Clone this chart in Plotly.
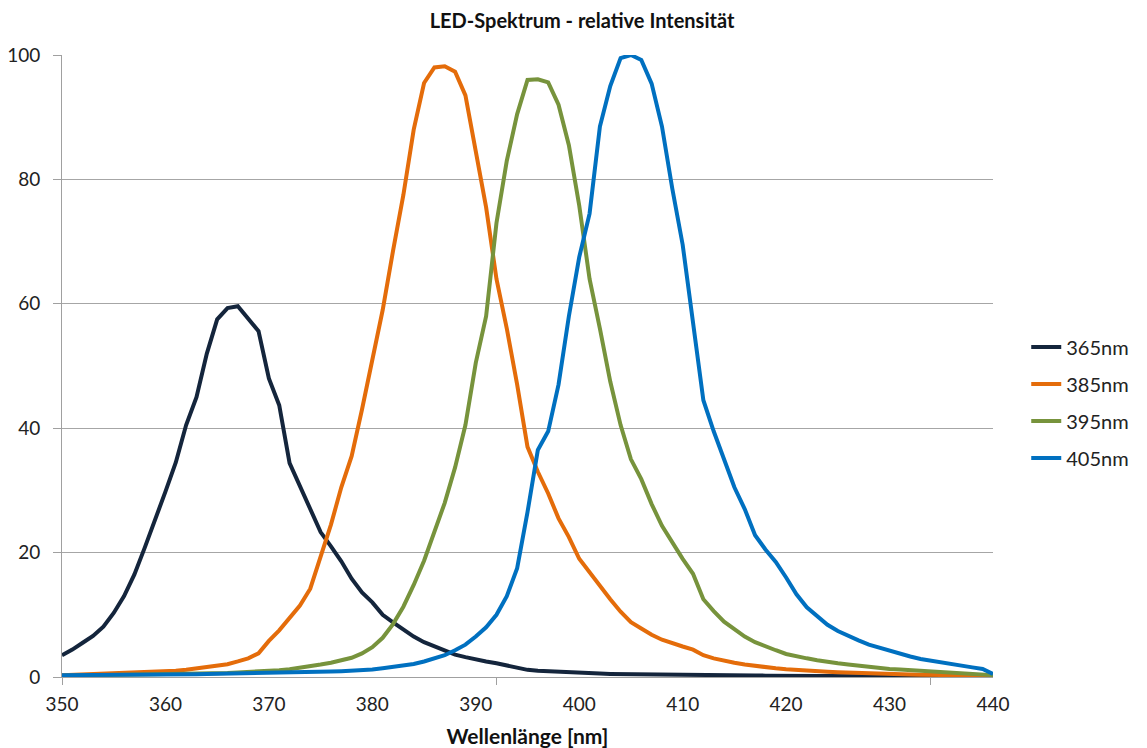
import plotly.graph_objects as go

wavelength = list(range(350, 441))

led_365 = [3.5, 4.4, 5.5, 6.6, 8.1, 10.3, 13.0, 16.5, 20.8, 25.2,
           29.8, 34.5, 40.5, 45.0, 52.0, 57.5, 59.3, 59.6, 57.6, 55.6,
           48.0, 43.7, 34.4, 30.6, 27.0, 23.3, 21.0, 18.6, 15.8, 13.6,
           12.0, 10.0, 8.8, 7.6, 6.5, 5.6, 4.9, 4.2, 3.6, 3.2,
           2.8, 2.5, 2.2, 1.8, 1.4, 1.15, 1.0, 0.9, 0.8, 0.72,
           0.65, 0.6, 0.55, 0.5, 0.47, 0.44, 0.41, 0.39, 0.37, 0.35,
           0.33, 0.31, 0.29, 0.27, 0.26, 0.25, 0.24, 0.23, 0.22, 0.21,
           0.2, 0.19, 0.18, 0.17, 0.16, 0.15, 0.14, 0.13, 0.12, 0.12,
           0.11, 0.11, 0.1, 0.1, 0.09, 0.09, 0.08, 0.08, 0.07, 0.07,
           0.06]

led_385 = [0.3, 0.35, 0.4, 0.45, 0.5, 0.55, 0.6, 0.65, 0.72, 0.8,
           0.9, 1.0, 1.15, 1.35, 1.55, 1.75, 2.05, 2.5, 3.0, 3.8,
           5.8, 7.5, 9.5, 11.5, 14.2, 19.5, 24.5, 30.5, 35.5, 43.0,
           51.0, 59.0, 68.5, 77.5, 88.0, 95.5, 98.0, 98.2, 97.3, 93.5,
           84.5, 75.5, 64.0, 56.0, 47.0, 37.0, 33.0, 29.5, 25.5, 22.5,
           19.0, 16.8, 14.5, 12.5, 10.5, 8.8, 7.8, 6.8, 6.0, 5.4,
           4.9, 4.4, 3.5, 3.0, 2.6, 2.3, 2.0, 1.75, 1.55, 1.4,
           1.25, 1.12, 1.0, 0.92, 0.84, 0.77, 0.7, 0.64, 0.58, 0.53,
           0.48, 0.44, 0.4, 0.37, 0.34, 0.31, 0.28, 0.26, 0.24, 0.22,
           0.2]

led_395 = [0.2, 0.22, 0.24, 0.26, 0.28, 0.3, 0.32, 0.34, 0.36, 0.38,
           0.4, 0.43, 0.46, 0.5, 0.55, 0.6, 0.66, 0.73, 0.8, 0.9,
           1.0, 1.1, 1.25, 1.45, 1.75, 2.0, 2.3, 2.7, 3.1, 3.8,
           4.8, 6.3, 8.5, 11.3, 14.8, 18.7, 23.2, 28.0, 33.7, 40.5,
           50.5, 58.0, 73.0, 83.0, 90.5, 96.0, 96.1, 95.6, 92.0, 85.5,
           75.8, 64.0, 56.0, 47.5, 40.5, 35.0, 31.8, 27.8, 24.3, 21.5,
           19.0, 16.6, 12.5, 10.6, 8.9, 7.7, 6.5, 5.6, 4.9, 4.3,
           3.7, 3.3, 3.0, 2.7, 2.4, 2.2, 2.0, 1.8, 1.6, 1.45,
           1.3, 1.2, 1.1, 1.0, 0.9, 0.8, 0.7, 0.6, 0.5, 0.4,
           0.3]

led_405 = [0.3, 0.3, 0.31, 0.32, 0.33, 0.34, 0.35, 0.36, 0.38, 0.39,
           0.4, 0.42, 0.44, 0.46, 0.48, 0.5, 0.52, 0.54, 0.57, 0.6,
           0.63, 0.66, 0.7, 0.74, 0.78, 0.82, 0.87, 0.93, 1.0, 1.1,
           1.2, 1.4, 1.6, 1.85, 2.1, 2.5, 3.0, 3.5, 4.3, 5.2,
           6.5, 8.0, 10.0, 13.0, 17.5, 26.5, 36.5, 39.5, 47.0, 58.0,
           67.5, 74.5, 88.5, 95.0, 99.5, 100.0, 99.2, 95.4, 88.5, 78.5,
           69.5, 57.5, 44.5, 39.5, 35.0, 30.5, 27.0, 22.8, 20.5, 18.5,
           16.0, 13.3, 11.2, 9.7, 8.4, 7.4, 6.6, 5.9, 5.2, 4.7,
           4.2, 3.7, 3.3, 2.9, 2.6, 2.3, 2.0, 1.8, 1.55, 1.3,
           0.5]

series_names = ["365nm", "385nm", "395nm", "405nm"]
series_values = [led_365, led_385, led_395, led_405]
series_colors = ["#14253C", "#E46C0A", "#77933C", "#0070C0"]

x_tick_vals = list(range(350, 441, 10))
y_tick_vals = [0, 20, 40, 60, 80, 100]

FONT = "Lato, 'Liberation Sans', sans-serif"
TXT = "#222222"

fig = go.Figure()
for name, vals, col in zip(series_names, series_values, series_colors):
    fig.add_trace(go.Scatter(
        x=wavelength, y=vals, mode="lines", name=name,
        legendgroup=name,
        line=dict(color=col, width=4, shape="linear"),
    ))

W, H = 1139, 740
fig.update_layout(
    width=W, height=H,
    paper_bgcolor="white", plot_bgcolor="white",
    margin=dict(l=54, r=154, t=47, b=71, autoexpand=False),
    font=dict(family=FONT, color=TXT, size=19),
    title=dict(text="<b>LED-Spektrum - relative Intensität</b>",
               x=0.504, xanchor="center", xref="container",
               y=1, yanchor="top", yref="container",
               pad=dict(t=6, b=0, l=0, r=0),
               font=dict(size=20, color="#111111")),
    legend=dict(x=1.0357, xanchor="left", y=0.562, yanchor="top",
                font=dict(size=20, color=TXT), traceorder="grouped",
                tracegroupgap=8, itemwidth=30, bgcolor="rgba(0,0,0,0)"),
    showlegend=True,
)

fig.update_xaxes(
    range=[350, 440], tickmode="array", tickvals=x_tick_vals,
    ticks="", showgrid=False, zeroline=False, automargin=False,
    showline=True, linecolor="#A0A0A0", linewidth=1,
    tickfont=dict(size=19, color=TXT), ticklabelstandoff=10,
    minor=dict(tickmode="array", tickvals=[350, 392, 434], ticks="outside",
               ticklen=7, tickcolor="#A0A0A0", showgrid=False),
    title=dict(text="<b>Wellenlänge [nm]</b>", font=dict(size=21, color="#111111"),
               standoff=21),
)
fig.update_yaxes(
    range=[0, 100], tickmode="array", tickvals=y_tick_vals,
    ticks="outside", ticklen=8, tickcolor="#A0A0A0", automargin=False,
    showgrid=True, gridcolor="#A6A6A6", gridwidth=1,
    zeroline=False, showline=True, linecolor="#A0A0A0", linewidth=1,
    tickfont=dict(size=19, color=TXT), ticklabelstandoff=9,
)

fig.write_html("out.html")
